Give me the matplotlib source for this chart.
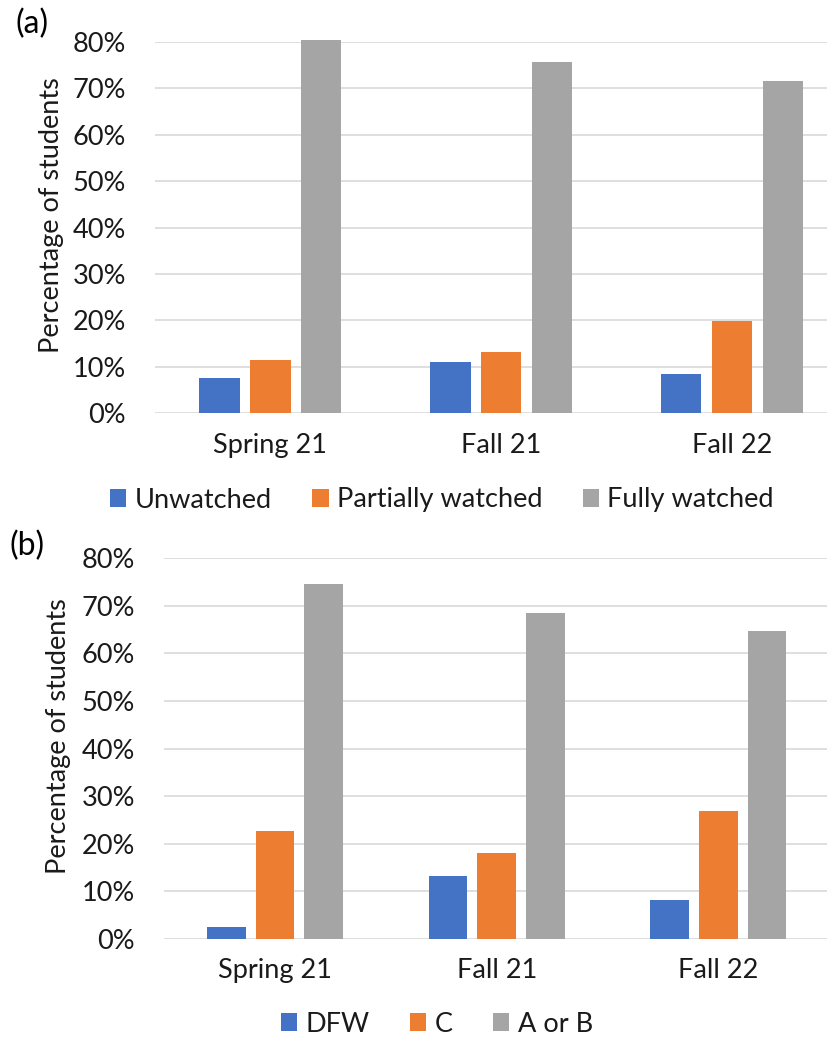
import numpy as np
import matplotlib
matplotlib.use("Agg")
import matplotlib.pyplot as plt
from matplotlib.patches import Patch

plt.rcParams['font.family'] = ['Lato', 'DejaVu Sans']

# data (percent of students)
semesters = ['Spring 21', 'Fall 21', 'Fall 22']

watch_labels = ['Unwatched', 'Partially watched', 'Fully watched']
unwatched = [7.7, 11.0, 8.4]
partially = [11.5, 13.1, 19.9]
fully = [80.4, 75.7, 71.5]

grade_labels = ['DFW', 'C', 'A or B']
dfw = [2.5, 13.2, 8.1]
grade_c = [22.6, 18.1, 27.0]
grade_ab = [74.5, 68.5, 64.8]

colors = ['#4472C4', '#ED7D31', '#A5A5A5']
fs = 19.5

fig = plt.figure(figsize=(8.28, 10.42), dpi=100)


def draw_panel(rect, series, labels, tag, tag_xy, ylab_xy, leg_xy):
    ax = fig.add_axes(rect)
    x = np.arange(len(semesters))
    offsets = [-0.22, 0.0, 0.22]
    for vals, off, c in zip(series, offsets, colors):
        ax.bar(x + off, vals, width=0.175, color=c, zorder=3, clip_on=False)
    ax.set_xlim(-0.5, 2.5)
    ax.set_ylim(0, 80)
    ax.set_yticks(np.arange(0, 81, 10))
    ax.set_yticklabels([f"{v}%" for v in range(0, 81, 10)], fontsize=fs, color='#1a1a1a')
    ax.set_xticks(x)
    ax.set_xticklabels(semesters, fontsize=fs, color='#1a1a1a')
    ax.tick_params(axis='y', length=0, pad=21)
    ax.tick_params(axis='x', length=0, pad=14)
    ax.yaxis.grid(True, color='#d9d9d9', lw=1.2, zorder=0)
    ax.set_axisbelow(True)
    for s in ax.spines.values():
        s.set_visible(False)
    fig.text(tag_xy[0], tag_xy[1], tag, fontsize=23, color='#000000', va='center', ha='left')
    fig.text(ylab_xy[0], ylab_xy[1], 'Percentage of students', fontsize=fs,
             rotation=90, va='center', ha='center', color='#1a1a1a')
    handles = [Patch(facecolor=c, edgecolor='none') for c in colors]
    fig.legend(handles, labels, loc='center', bbox_to_anchor=leg_xy, ncol=3,
               frameon=False, fontsize=fs, handlelength=0.6, handleheight=0.6,
               handletextpad=0.3, columnspacing=1.5, labelcolor='#1a1a1a')
    return ax


W, H = 828, 1042
draw_panel([155 / W, 1 - 413.3 / H, (847.5 - 155) / W, (413.3 - 41.7) / H],
           [unwatched, partially, fully], watch_labels, '(a)',
           (16 / W, 1 - 24 / H), (52 / W, 1 - 215 / H), (442 / W, 1 - 500 / H))
draw_panel([164.3 / W, 1 - 939 / H, (829 - 164.3) / W, (939 - 558.3) / H],
           [dfw, grade_c, grade_ab], grade_labels, '(b)',
           (10 / W, 1 - 546 / H), (59 / W, 1 - 736 / H), (437 / W, 1 - 1024 / H))

fig.savefig('out.png', dpi=100)
